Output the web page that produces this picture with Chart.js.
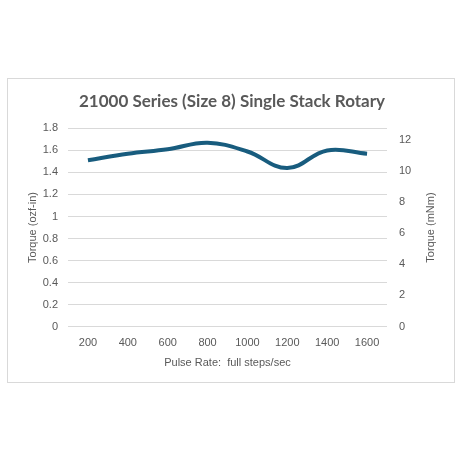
<!DOCTYPE html>
<html lang="en">
<head>
    <meta charset="UTF-8">
    <title>21000 Series (Size 8) Single Stack Rotary</title>
    <script src="https://cdn.jsdelivr.net/npm/chart.js"></script>
    <style>
        body {
            margin: 0;
            background: #fff;
        }

        .chart-box {
            position: absolute;
            left: 7px;
            top: 78px;
            width: 446px;
            height: 303px;
            border: 1px solid #d9d9d9;
        }
    </style>
</head>
<body>
    <div class="chart-box">
        <canvas id="torqueChart"></canvas>
    </div>

    <script>
        // Dados
        const pulseRates = ['200', '400', '600', '800', '1000', '1200', '1400', '1600'];
        const torqueOzfIn = [1.51, 1.57, 1.61, 1.67, 1.59, 1.44, 1.60, 1.57];
        const leftTicks = [0, 0.2, 0.4, 0.6, 0.8, 1, 1.2, 1.4, 1.6, 1.8];
        const rightTicks = [0, 2, 4, 6, 8, 10, 12];

        const OZFIN_TO_MNM = 7.0616;
        const textColor = '#595959';
        const tickFont = { family: 'Liberation Sans', size: 11 };

        // título do eixo direito lendo de baixo para cima, como no Excel
        const rightTitle = {
            id: 'rightTitle',
            afterDraw(chart) {
                const s = chart.scales.y2;
                const c = chart.ctx;
                c.save();
                c.translate(s.right - 6.6, (s.top + s.bottom) / 2);
                c.rotate(-Math.PI / 2);
                c.fillStyle = textColor;
                c.font = '11px "Liberation Sans"';
                c.textAlign = 'center';
                c.textBaseline = 'middle';
                c.fillText('Torque (mNm)', 0, 0);
                c.restore();
            }
        };

        const ctx = document.getElementById('torqueChart').getContext('2d');

        new Chart(ctx, {
            type: 'line',
            data: {
                labels: pulseRates,
                datasets: [{
                    data: torqueOzfIn,
                    borderColor: '#185c7e',
                    borderWidth: 4,
                    tension: 0.4,
                    pointRadius: 0,
                    fill: false,
                    yAxisID: 'y'
                }]
            },
            plugins: [rightTitle],
            options: {
                responsive: true,
                maintainAspectRatio: false,
                animation: false,
                layout: {
                    padding: { left: 18, right: 16, top: 0, bottom: 12 }
                },
                plugins: {
                    legend: { display: false },
                    tooltip: { enabled: false },
                    title: {
                        display: true,
                        text: '21000 Series (Size 8) Single Stack Rotary',
                        color: textColor,
                        font: { family: 'Lato', size: 17, weight: 'bold' },
                        padding: { top: 12, bottom: 17 }
                    }
                },
                scales: {
                    x: {
                        offset: true,
                        grid: { display: false, drawTicks: false },
                        border: { display: false },
                        ticks: { color: textColor, font: tickFont, padding: 10 },
                        title: {
                            display: true,
                            text: 'Pulse Rate:  full steps/sec',
                            color: textColor,
                            font: tickFont,
                            padding: { top: -3, bottom: 0 }
                        }
                    },
                    y: {
                        position: 'left',
                        min: 0,
                        max: 1.8,
                        afterBuildTicks: axis => { axis.ticks = leftTicks.map(v => ({ value: v })); },
                        afterFit: axis => { axis.width = 42; },
                        grid: { color: '#d9d9d9', lineWidth: 1, drawTicks: false },
                        border: { display: false },
                        ticks: {
                            color: textColor,
                            font: tickFont,
                            padding: 10,
                            callback: v => String(Number(v.toFixed(1)))
                        },
                        title: {
                            display: true,
                            text: 'Torque (ozf-in)',
                            color: textColor,
                            font: tickFont,
                            padding: 0
                        }
                    },
                    y2: {
                        position: 'right',
                        min: 0,
                        max: 1.8 * OZFIN_TO_MNM,
                        afterBuildTicks: axis => { axis.ticks = rightTicks.map(v => ({ value: v })); },
                        afterFit: axis => { axis.width = 51; },
                        grid: { display: false },
                        border: { display: false },
                        ticks: { color: textColor, font: tickFont, padding: 4 },
                        title: { display: false }
                    }
                }
            }
        });
    </script>
</body>
</html>
